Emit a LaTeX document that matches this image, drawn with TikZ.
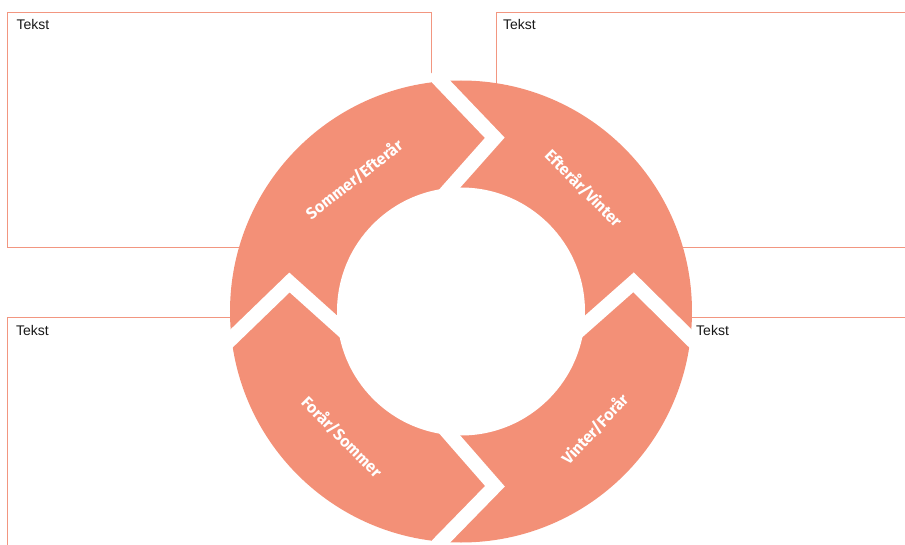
\documentclass[tikz,border=0pt]{standalone}
\usepackage{fontspec}
\setmainfont{Liberation Sans}
\newfontfamily\labelfont{Fira Sans}
\usetikzlibrary{calc}
\definecolor{salmon}{RGB}{243,144,119}
\definecolor{boxline}{RGB}{242,150,128}
\definecolor{txt}{RGB}{25,25,25}
\begin{document}
\begin{tikzpicture}[x=1pt,y=1pt,
  tbox/.style={draw=boxline,line width=1pt,fill=white},
  tekst/.style={anchor=base west,inner sep=0pt,font=\fontsize{14}{16}\selectfont,text=txt},
  gapline/.style={draw=white,line width=14.5pt,line join=miter,line cap=butt,miter limit=10},
  seglabel/.style={font=\labelfont\bfseries\fontsize{16}{18}\selectfont,text=white,inner sep=0pt}]
\clip (-461,-232.5) rectangle (444,311.5);
% text boxes
\draw[tbox] (-453.5,299) rectangle (-29.5,64);
\draw[tbox] (35.5,299) rectangle (460,64);
\draw[tbox] (-453.5,-6) rectangle (-29.5,-245);
\fill[white] (0,-6) rectangle (460,-245);
\draw[boxline,line width=1pt] (0,-6) -- (460,-6);
% ring
\fill[salmon] (0,0) circle (231);
\fill[white] (0,0) circle (124);
% gaps
\coordinate (tO) at (95:231);   \coordinate (tT) at (79:177);   \coordinate (tI) at (95:124);
\coordinate (bO) at (-95:231);  \coordinate (bT) at (-79:178);  \coordinate (bI) at (-95:124);
\coordinate (lO) at (186.7:231);\coordinate (lT) at (170.4:174);\coordinate (lI) at (186.7:124);
\coordinate (rO) at (-6.7:231); \coordinate (rT) at (9.6:175);  \coordinate (rI) at (-6.7:124);
\draw[gapline] ($(tT)!1.16!(tO)$) -- (tT) -- ($(tT)!1.4!(tI)$);
\draw[gapline] ($(bT)!1.16!(bO)$) -- (bT) -- ($(bT)!1.4!(bI)$);
\draw[gapline] ($(lT)!1.16!(lO)$) -- (lT) -- ($(lT)!1.4!(lI)$);
\draw[gapline] ($(rT)!1.16!(rO)$) -- (rT) -- ($(rT)!1.4!(rI)$);
% segment labels
\node[seglabel,rotate=38] (l1) at (129:170) {Sommer/Efterår};
\node[seglabel,rotate=-45] (l2) at (45.1:174) {Efterår/Vinter};
\node[seglabel,rotate=-45] (l3) at (-133.5:173) {Forår/Sommer};
\node[seglabel,rotate=47] (l4) at (-41.3:178) {Vinter/Forår};
% box texts
\node[tekst] (t1) at (-444.5,281.5) {Tekst};
\node[tekst] (t2) at (42,281.5) {Tekst};
\node[tekst] (t3) at (-445,-24) {Tekst};
\node[tekst] (t4) at (235,-24) {Tekst};
\end{tikzpicture}
\end{document}
